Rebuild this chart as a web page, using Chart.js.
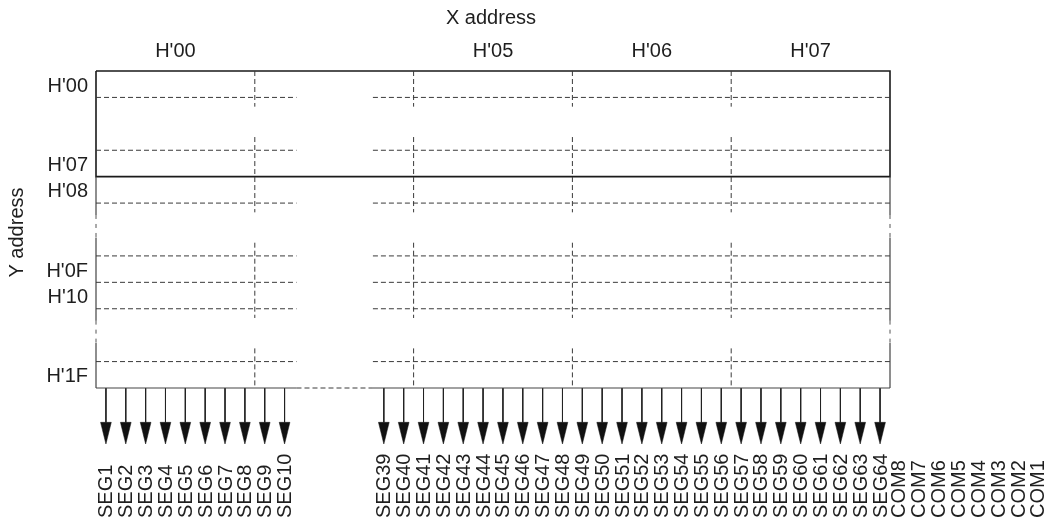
<!DOCTYPE html>
<html><head><meta charset="utf-8">
<script src="https://cdn.jsdelivr.net/npm/chart.js@4.4.1/dist/chart.umd.min.js"></script>
<style>html,body{margin:0;padding:0;background:#fff}#wrap{width:1050px;height:520px;position:relative}</style>
</head><body><div id="wrap"><canvas id="c"></canvas></div>
<script>
// ---------------- data ----------------
const xTitle = 'X address';
const yTitle = 'Y address';
// X address pages, 8 display columns each; the blank page stands for the omitted pages H'01–H'04
const pageLabels = ["H'00", "", "H'05", "H'06", "H'07"];
// Y address display rows; blanks are rows inside the omitted (compressed) bands
const rowLabels = ["H'00", "", "", "H'07", "H'08", "", "", "H'0F", "H'10", "", "", "H'1F"];
// segment outputs shown on the left of the break
const segLeft = ['SEG1','SEG2','SEG3','SEG4','SEG5','SEG6','SEG7','SEG8','SEG9','SEG10'];
// number of blank display columns standing for the omitted SEG11–SEG38
const segGapColumns = 4;
// segment outputs shown on the right of the break
const segRight = ['SEG39','SEG40','SEG41','SEG42','SEG43','SEG44','SEG45','SEG46','SEG47','SEG48','SEG49','SEG50','SEG51','SEG52','SEG53','SEG54','SEG55','SEG56','SEG57','SEG58','SEG59','SEG60','SEG61','SEG62','SEG63','SEG64'];
// common outputs, continuing to the right of the array
const comLabels = ['COM8','COM7','COM6','COM5','COM4','COM3','COM2','COM1'];
// row boundaries drawn dashed / solid box (H'00–H'07 block)
const dashedRows = [1, 3, 5, 7, 8, 9, 11];
const boxRows = [0, 4];
// omitted row bands (start row, end row)
const omittedRowBands = [[1, 3], [5, 7], [9, 11]];

// ---------------- layout / style ----------------
const PAGE_COLS = 8;
const columns = [...segLeft, ...Array(segGapColumns).fill(''), ...segRight];
const nCols = columns.length;           // 40
const nRows = rowLabels.length;         // 12
const BOX = {left: 96, right: 890, top: 71, bottom: 388, W: 1050, H: 520};
const colPx = (BOX.right - BOX.left) / nCols;
const rowPx = (BOX.bottom - BOX.top) / nRows;
const FONT = '20px "Liberation Sans", Arial, Helvetica, sans-serif';
const INK = '#1e1e1e';

const breakStart = segLeft.length + 0.1;
const breakEnd = segLeft.length + segGapColumns - 0.05;
const GAP = {x: null, y: null};

// horizontal dashed row lines
const hDashed = [];
dashedRows.forEach(r => {
  hDashed.push({x: 0, y: r}, {x: breakStart, y: r}, GAP, {x: breakEnd, y: r}, {x: nCols, y: r}, GAP);
});
hDashed.push({x: breakStart, y: nRows}, {x: breakEnd, y: nRows}, GAP);

// vertical dashed page boundaries, broken inside the omitted row bands
const vDashed = [];
for (let p = 1; p < pageLabels.length; p++) {
  const c = p * PAGE_COLS;
  let y0 = 0;
  omittedRowBands.forEach(([a, b]) => {
    vDashed.push({x: c, y: y0}, {x: c, y: a + 0.35}, GAP);
    y0 = b - 0.5;
  });
  vDashed.push({x: c, y: y0}, {x: c, y: nRows}, GAP);
}

// box H'00–H'07 (solid, heavier)
const boxLines = [];
boxLines.push({x: 0, y: boxRows[0]}, {x: nCols, y: boxRows[0]}, {x: nCols, y: boxRows[1]}, {x: 0, y: boxRows[1]}, {x: 0, y: boxRows[0]});

// lower frame (solid, lighter), broken in the lower omitted bands
const frame = [];
const borderDash = [];
[0, nCols].forEach(c => {
  let y0 = boxRows[1];
  omittedRowBands.slice(1).forEach(([a, b]) => {
    frame.push({x: c, y: y0}, {x: c, y: a + 0.45}, GAP);
    borderDash.push({x: c, y: a + 0.45}, {x: c, y: b - 0.7}, GAP);
    y0 = b - 0.7;
  });
  frame.push({x: c, y: y0}, {x: c, y: nRows}, GAP);
});
frame.push({x: 0, y: nRows}, {x: breakStart, y: nRows}, GAP, {x: breakEnd, y: nRows}, {x: nCols, y: nRows}, GAP);

// arrows for every shown segment output
const stems = [], heads = [];
columns.forEach((lab, i) => {
  if (!lab) return;
  const c = i + 0.5;
  stems.push({x: c, y: nRows}, {x: c, y: nRows + 1.32}, GAP);
  heads.push({x: c - 0.27, y: nRows + 1.3}, {x: c + 0.27, y: nRows + 1.3}, {x: c, y: nRows + 2.12}, {x: c - 0.27, y: nRows + 1.3}, GAP);
});

const base = {pointRadius: 0, pointHoverRadius: 0, tension: 0, fill: false, spanGaps: false, borderCapStyle: 'butt', borderJoinStyle: 'miter', clip: false};

const labelsPlugin = {
  id: 'diagramText',
  afterDatasetsDraw(chart) {
    const {ctx, scales: {x, y}} = chart;
    ctx.save();
    ctx.fillStyle = INK;
    ctx.font = FONT;
    // X title and page labels
    ctx.textAlign = 'center';
    ctx.textBaseline = 'middle';
    ctx.fillText(xTitle, x.getPixelForValue(nCols / 2) - 2, y.getPixelForValue(0) - 53);
    pageLabels.forEach((t, i) => {
      if (t) ctx.fillText(t, x.getPixelForValue(i * PAGE_COLS + PAGE_COLS / 2), y.getPixelForValue(0) - 20);
    });
    // row labels
    ctx.textAlign = 'right';
    rowLabels.forEach((t, i) => {
      if (t) ctx.fillText(t, x.getPixelForValue(0) - 8, y.getPixelForValue(i + 0.5) + 2);
    });
    // Y title
    ctx.save();
    ctx.translate(17, y.getPixelForValue(nRows / 2) + 3);
    ctx.rotate(-Math.PI / 2);
    ctx.textAlign = 'center';
    ctx.fillText(yTitle, 0, 0);
    ctx.restore();
    // output labels
    const baseY = y.getPixelForValue(nRows) + 130;
    const vtext = (t, cx) => {
      ctx.save();
      ctx.translate(cx, baseY);
      ctx.rotate(-Math.PI / 2);
      ctx.textAlign = 'left';
      ctx.textBaseline = 'middle';
      ctx.fillText(t, 0, 0);
      ctx.restore();
    };
    columns.forEach((t, i) => { if (t) vtext(t, x.getPixelForValue(i + 0.5) + 1); });
    comLabels.forEach((t, j) => vtext(t, x.getPixelForValue(nCols + j + 0.5)));
    ctx.restore();
  }
};

new Chart(document.getElementById('c'), {
  type: 'line',
  data: {
    datasets: [
      {...base, label: 'rows', data: hDashed, borderColor: '#3a3a3a', borderWidth: 1, borderDash: [5, 3]},
      {...base, label: 'pages', data: vDashed, borderColor: '#3a3a3a', borderWidth: 1, borderDash: [5, 3]},
      {...base, label: 'borderGaps', data: borderDash, borderColor: '#555', borderWidth: 1, borderDash: [4, 5]},
      {...base, label: 'frame', data: frame, borderColor: '#444', borderWidth: 1.2},
      {...base, label: 'box', data: boxLines, borderColor: '#1a1a1a', borderWidth: 1.6},
      {...base, label: 'stems', data: stems, borderColor: '#222', borderWidth: 1},
      {...base, label: 'heads', data: heads, borderColor: '#111', backgroundColor: '#111', borderWidth: 0.5, fill: 'shape'}
    ]
  },
  options: {
    responsive: true,
    maintainAspectRatio: false,
    animation: false,
    events: [],
    layout: {padding: 0},
    plugins: {legend: {display: false}, tooltip: {enabled: false}, title: {display: false}},
    scales: {
      x: {type: 'linear', display: false, min: -BOX.left / colPx, max: (BOX.W - BOX.left) / colPx},
      y: {type: 'linear', display: false, reverse: true, min: -BOX.top / rowPx, max: (BOX.H - BOX.top) / rowPx}
    }
  },
  plugins: [labelsPlugin]
});
</script>
</body></html>
